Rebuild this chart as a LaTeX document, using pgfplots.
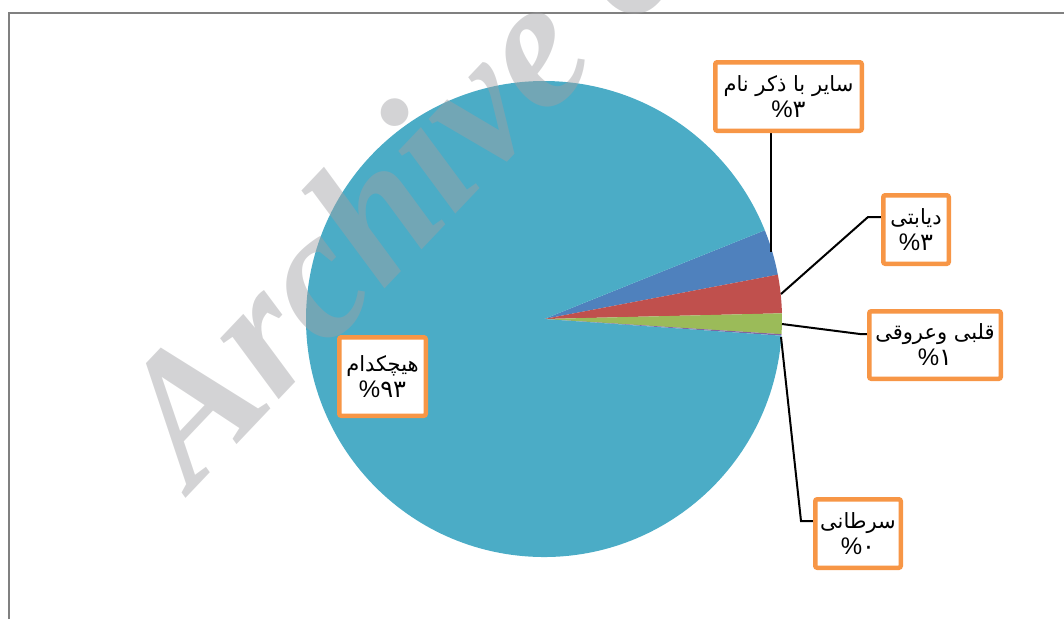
\documentclass[border=0pt]{standalone}
\usepackage{fontspec}
\usepackage{pgfplots}
\usepackage{pgfplotstable}
\pgfplotsset{compat=1.18}
\setmainfont{Liberation Sans}
\newfontfamily\arabicfont[Script=Arabic]{DejaVu Sans}
\newfontfamily\wmfont{Liberation Serif}
\TeXXeTstate=1

\definecolor{sBlue}{HTML}{4F81BD}
\definecolor{sRed}{HTML}{C0504D}
\definecolor{sGreen}{HTML}{9BBB59}
\definecolor{sPurple}{HTML}{8064A2}
\definecolor{sTeal}{HTML}{4BACC6}
\definecolor{lblOrange}{HTML}{F79646}
\definecolor{frameGray}{RGB}{128,128,128}
\definecolor{wmGray}{RGB}{160,160,163}

% slice values (percent), clockwise from the start angle
\pgfplotstableread{
idx value
1 3.1
2 2.6
3 1.4
4 0.1
5 92.8
}\piedata

\newcommand{\lbl}{\fontsize{21}{26}\selectfont}
\newcommand{\pct}[1]{{\fontsize{24}{26}\selectfont\%{\arabicfont #1}}}

\begin{document}
\begin{tikzpicture}
\path[use as bounding box] (0,0) rectangle (1064pt,-619pt);
\clip (0,0) rectangle (1064pt,-619pt);
\begin{axis}[
  at={(0,0)}, anchor=north west,
  scale only axis, x=1pt, y=1pt,
  xmin=0, xmax=1064, ymin=0, ymax=619,
  y dir=reverse, hide axis, clip=false,
]
% pie slices
\pgfplotsextra{
  \xdef\acc{21.9}
  \foreach \i/\c in {0/sBlue,1/sRed,2/sGreen,3/sPurple,4/sTeal}{
    \pgfplotstablegetelem{\i}{value}\of\piedata
    \pgfmathsetmacro\aa{\acc}
    \pgfmathsetmacro\bb{\acc-3.6*\pgfplotsretval}
    \fill[\c] (axis cs:544,319) -- ++(\aa:238pt) arc[start angle=\aa, end angle=\bb, radius=238pt] -- cycle;
    \xdef\acc{\bb}
  }
}
% frame
\addplot[frameGray, line width=2.4pt] coordinates {(9,619) (9,13) (1064,13)};
% watermark
\node[rotate=46.5, anchor=base west, text=wmGray, text opacity=0.46,
      font=\wmfont\bfseries\itshape\fontsize{184}{184}\selectfont]
      at (axis cs:190,494) {Archive of SID};
% leader lines
\addplot[black, line width=2pt] coordinates {(771,131) (771,252)};
\addplot[black, line width=2pt] coordinates {(781,294) (868,217) (881,217)};
\addplot[black, line width=2pt] coordinates {(782,324) (860,334) (867,334)};
\addplot[black, line width=2pt] coordinates {(781,337) (801,521) (813,521)};
% label boxes
\draw[lblOrange, line width=4.5pt, rounded corners=2pt, fill=white] (axis cs:715.25,62.25) rectangle (axis cs:861.75,130.75);
\draw[lblOrange, line width=4.5pt, rounded corners=2pt, fill=white] (axis cs:883.25,195.25) rectangle (axis cs:948.75,263.75);
\draw[lblOrange, line width=4.5pt, rounded corners=2pt, fill=white] (axis cs:869.25,311.25) rectangle (axis cs:1000.75,378.75);
\draw[lblOrange, line width=4.5pt, rounded corners=2pt, fill=white] (axis cs:815.25,499.25) rectangle (axis cs:900.75,567.75);
\draw[lblOrange, line width=4.5pt, rounded corners=2pt, fill=white] (axis cs:339.25,337.25) rectangle (axis cs:425.75,415.75);
% label texts
\node[align=center, font=\lbl] at (axis cs:788.5,97) {\arabicfont\beginR سایر با ذکر نام\endR\\\pct{۳}};
\node[align=center, font=\lbl] at (axis cs:916,230) {\arabicfont\beginR دیابتی\endR\\\pct{۳}};
\node[align=center, font=\lbl] at (axis cs:935,345) {\arabicfont\beginR قلبی وعروقی\endR\\\pct{۱}};
\node[align=center, font=\lbl] at (axis cs:858,534) {\arabicfont\beginR سرطانی\endR\\\pct{۰}};
\node[align=center, font=\lbl] at (axis cs:382.5,376.5) {\arabicfont\beginR هیچکدام\endR\\\pct{۹۳}};
\end{axis}
\end{tikzpicture}
\end{document}
